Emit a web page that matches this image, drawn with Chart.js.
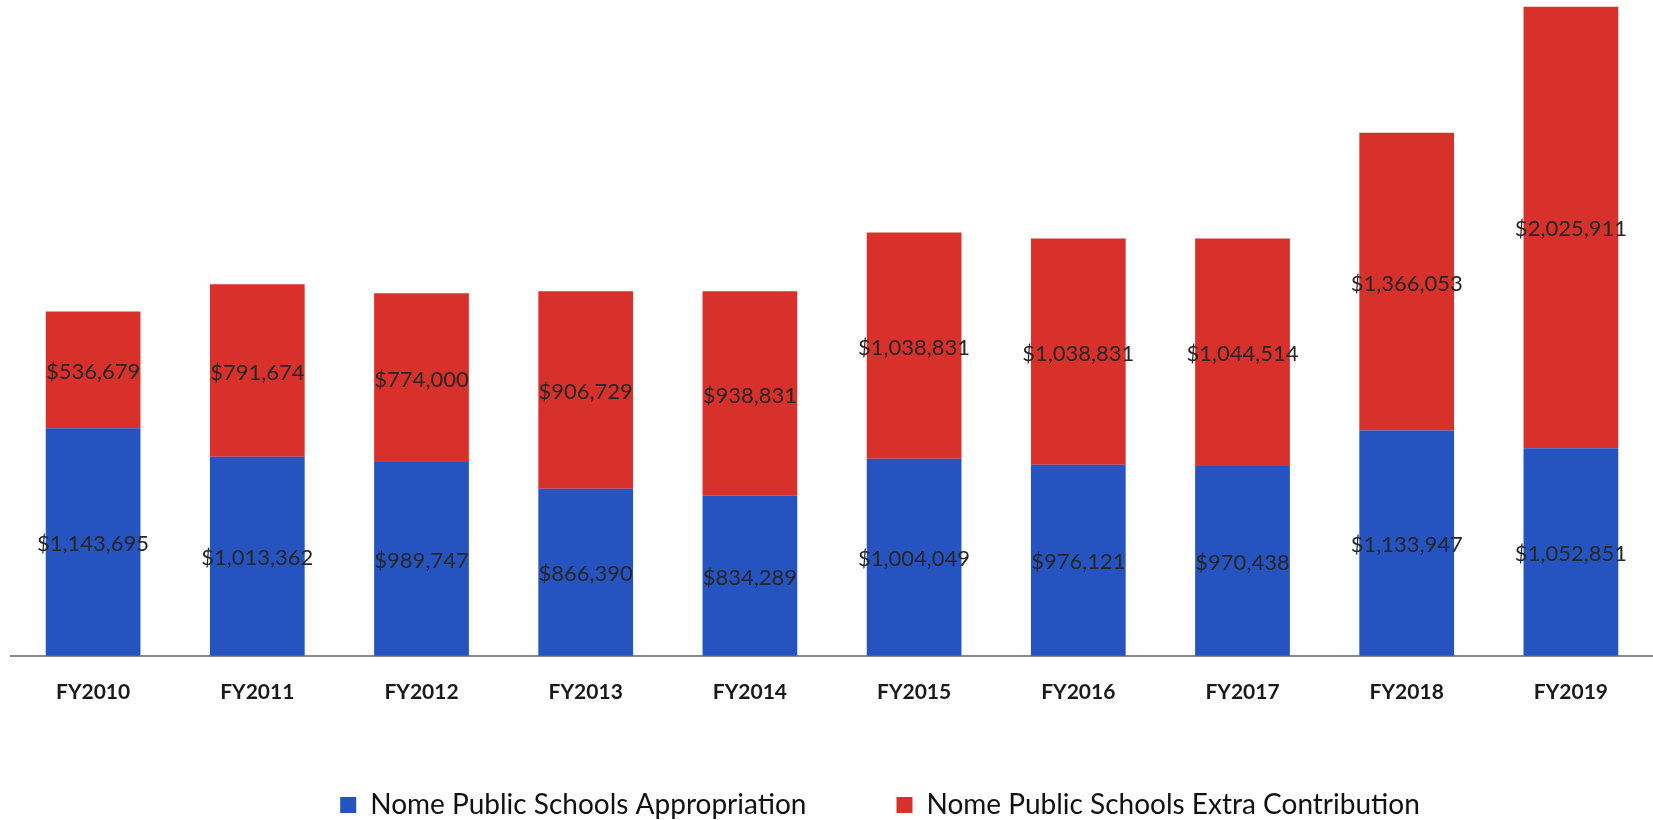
<!DOCTYPE html>
<html>
<head>
<meta charset="utf-8">
<script src="https://cdn.jsdelivr.net/npm/chart.js@4.4.1/dist/chart.umd.min.js"></script>
<style>
  html, body { margin: 0; padding: 0; background: #fff; overflow: hidden; }
  #wrap { width: 1653px; height: 820px; position: relative; }
</style>
</head>
<body>
<div id="wrap"><canvas id="chart_instance"></canvas></div>
<script>
var years = ["FY2010", "FY2011", "FY2012", "FY2013", "FY2014", "FY2015", "FY2016", "FY2017", "FY2018", "FY2019"];
var appropriation = [1143695, 1013362, 989747, 866390, 834289, 1004049, 976121, 970438, 1133947, 1052851];
var extraContribution = [536679, 791674, 774000, 906729, 938831, 1038831, 1038831, 1044514, 1366053, 2025911];

var blue = "#2553c0";
var red = "#d8302a";

// write "$1,234,567" in the middle of each visible segment
var segmentLabels = {
    id: "segmentLabels",
    afterDatasetsDraw: function (chart) {
        var ctx = chart.ctx;
        var area = chart.chartArea;
        ctx.save();
        ctx.font = "22px Lato";
        ctx.fillStyle = "#262626";
        ctx.textAlign = "center";
        ctx.textBaseline = "middle";
        chart.data.datasets.forEach(function (ds, i) {
            chart.getDatasetMeta(i).data.forEach(function (bar, j) {
                var base = Math.min(bar.base, area.bottom);
                var y = (bar.y + base) / 2;
                ctx.fillText("$" + ds.data[j].toLocaleString("en-US"), bar.x, y + 2);
            });
        });
        ctx.restore();
    }
};

// legend: wide gap between items but a short box, moved to where the original has it
var legendTweak = {
    id: "legendTweak",
    beforeInit: function (chart) {
        var legend = chart.legend;
        var fit = legend.fit;
        legend.fit = function () {
            fit.call(legend);
            legend.height = 91;
        };
        var draw = legend.draw;
        legend.draw = function () {
            var top = legend.top;
            legend.top = top - 28;
            chart.ctx.save();
            chart.ctx.translate(44, 0);
            draw.call(legend);
            chart.ctx.restore();
            legend.top = top;
        };
    }
};

var canvas = document.getElementById("chart_instance").getContext("2d");
var chart_instance = new Chart(canvas, {
    type: "bar",
    data: {
        labels: years,
        datasets: [
            {
                label: "Nome Public Schools Appropriation",
                data: appropriation,
                backgroundColor: blue,
                borderWidth: 0,
                categoryPercentage: 1.0,
                barPercentage: 0.577
            },
            {
                label: "Nome Public Schools Extra Contribution",
                data: extraContribution,
                backgroundColor: red,
                borderWidth: 0,
                categoryPercentage: 1.0,
                barPercentage: 0.577
            }
        ]
    },
    options: {
        responsive: true,
        maintainAspectRatio: false,
        animation: false,
        layout: { padding: { left: 11, right: -8, top: 2, bottom: 0 } },
        scales: {
            x: {
                stacked: true,
                grid: { display: false, drawTicks: false },
                border: { display: true, color: "#8a8a8a", width: 2 },
                ticks: {
                    color: "#1a1a1a",
                    padding: 24,
                    font: { family: "Lato", size: 21, weight: "bold" }
                }
            },
            y: {
                stacked: true,
                display: false,
                min: 100000,
                max: 3100000
            }
        },
        plugins: {
            legend: {
                position: "bottom",
                labels: {
                    color: "#111",
                    boxWidth: 16,
                    boxHeight: 16,
                    padding: 90,
                    font: { family: "Lato", size: 28 }
                }
            },
            tooltip: { enabled: false }
        }
    },
    plugins: [segmentLabels, legendTweak]
});
</script>
</body>
</html>
